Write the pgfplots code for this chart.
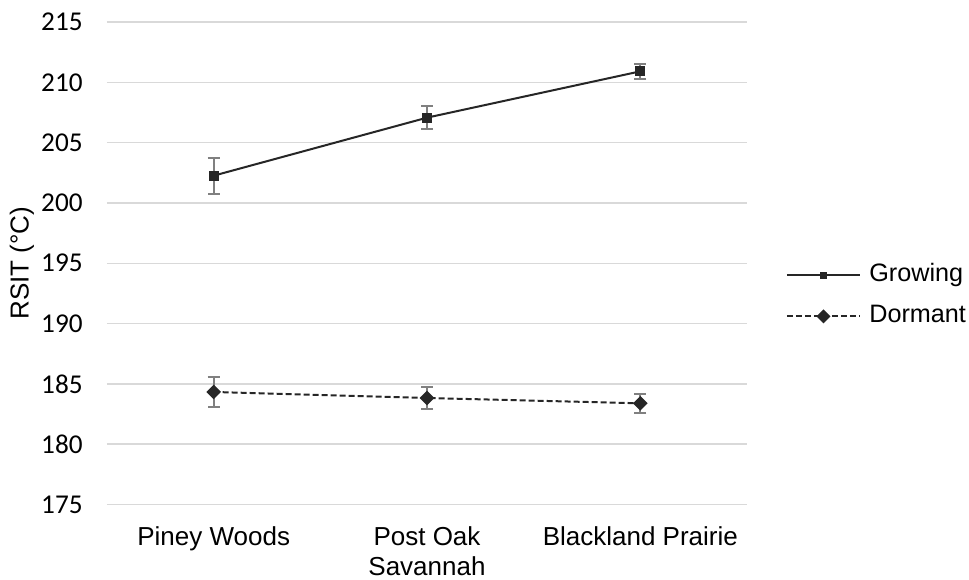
\documentclass[border=0pt]{standalone}
\usepackage{fontspec}
\setmainfont{Liberation Sans}
\newfontfamily\calibri{Carlito}
\usepackage{pgfplots}
\pgfplotsset{compat=1.18}

\definecolor{serieslinecol}{HTML}{262626}
\definecolor{errcol}{HTML}{808080}
\definecolor{gridcol}{HTML}{D9D9D9}

% RSIT means with their error half-widths
\pgfplotstableread{
x  y       e
0  202.26  1.50
1  207.07  0.95
2  210.91  0.60
}\growing
\pgfplotstableread{
x  y       e
0  184.33  1.22
1  183.83  0.88
2  183.39  0.78
}\dormant

\begin{document}
\begin{tikzpicture}
\useasboundingbox (-53.5pt,-37.25pt) rectangle (431pt,252.25pt);
\begin{axis}[
  at={(0,0)}, anchor=south west,
  scale only axis,
  width=320pt, height=241.25pt,
  xmin=-0.5, xmax=2.5,
  ymin=175, ymax=215,
  xtick={0,1,2},
  xticklabels={Piney Woods,{Post Oak\\Savannah},Blackland Prairie},
  ytick={175,180,...,215},
  major tick length=0pt,
  axis line style={draw=none},
  ymajorgrids,
  grid style={gridcol, line width=0.75pt},
  /pgf/number format/assume math mode=true,
  yticklabel style={font=\calibri\fontsize{13.6}{15}\selectfont, inner sep=0pt, anchor=east, xshift=-12pt},
  xticklabel style={font=\fontsize{13}{15}\selectfont, align=center, inner sep=0pt, anchor=north, yshift=-11pt},
  ylabel={RSIT (°C)},
  ylabel style={font=\fontsize{13}{15}\selectfont, at={(axis description cs:-0.1328,0.5)}, anchor=center, inner sep=0pt},
  legend style={draw=none, fill=none, at={(1.0609,0.4324)}, anchor=west,
    inner sep=0pt, outer sep=0pt, row sep=8pt, column sep=4.2pt,
    font=\fontsize{12.6}{15}\selectfont,
    nodes={inner sep=0pt, text height=9.5pt, text depth=3pt}},
  legend cell align=left,
  legend image code/.code={
    \draw[mark repeat=2,mark phase=2,#1] plot coordinates {(0pt,0pt) (18.25pt,0pt) (36.5pt,0pt)};
  },
  error bars/error bar style={errcol, line width=1pt, solid},
  error bars/error mark options={errcol, rotate=90, mark size=3pt, line width=1pt, solid},
]
\addplot[serieslinecol, line width=1pt, mark=square*, mark size=2pt,
  mark options={solid, fill=serieslinecol},
  legend image post style={mark size=1.3pt},
  error bars/.cd, y dir=both, y explicit]
  table[x=x, y=y, y error=e] {\growing};
\addlegendentry{Growing}
\addplot[serieslinecol, line width=1pt, dash pattern=on 3pt off 1.5pt,
  mark=square*, mark size=2.1pt,
  mark options={solid, rotate=45, fill=serieslinecol},
  legend image post style={mark size=1.95pt},
  error bars/.cd, y dir=both, y explicit]
  table[x=x, y=y, y error=e] {\dormant};
\addlegendentry{Dormant}
\end{axis}
\end{tikzpicture}
\end{document}
